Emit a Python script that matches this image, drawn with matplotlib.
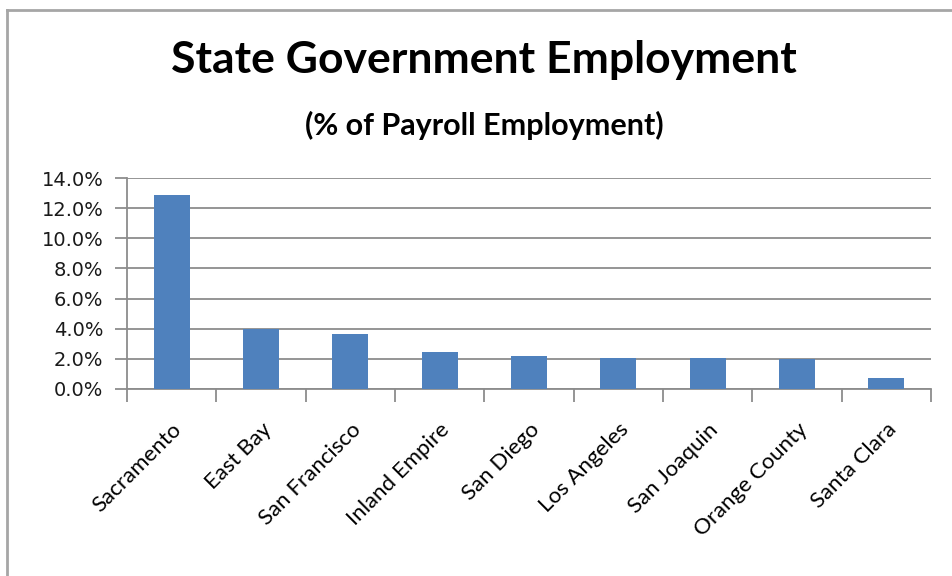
import matplotlib
matplotlib.use("Agg")
import matplotlib.pyplot as plt
from matplotlib.ticker import FuncFormatter, FixedLocator
from matplotlib.lines import Line2D

categories = ["Sacramento", "East Bay", "San Francisco", "Inland Empire", "San Diego",
              "Los Angeles", "San Joaquin", "Orange County", "Santa Clara"]
values = [12.9, 3.95, 3.65, 2.45, 2.2, 2.05, 2.05, 1.98, 0.75]
yticks = [0, 2, 4, 6, 8, 10, 12, 14]

fig = plt.figure(figsize=(9.52, 5.76), dpi=100)
fig.patch.set_facecolor("white")

# outer chart frame
fig.add_artist(Line2D([7/952, 7/952], [0, 1 - 10/576], transform=fig.transFigure,
                      color="#a6a6a6", lw=2))
fig.add_artist(Line2D([7/952, 1], [1 - 10/576, 1 - 10/576], transform=fig.transFigure,
                      color="#a6a6a6", lw=2))

ax = fig.add_axes([127/952, (576-389)/576, (931-127)/952, (389-178)/576])
x = list(range(len(categories)))
ax.bar(x, values, width=0.4, color="#4F81BD", zorder=3)
ax.set_xlim(-0.5, len(categories) - 0.5)
ax.set_ylim(0, 14)
ax.set_yticks(yticks)
ax.yaxis.set_major_formatter(FuncFormatter(lambda v, p: f"{v:.1f}%"))
ax.grid(axis="y", color="#8c8c8c", lw=1.3, zorder=0)
for s in ["top", "right"]:
    ax.spines[s].set_visible(False)
for s in ["left", "bottom"]:
    ax.spines[s].set_color("#8c8c8c")
    ax.spines[s].set_linewidth(1.3)

ax.set_xticks(x)
ax.set_xticklabels(categories, rotation=45, ha="right", rotation_mode="anchor",
                   fontsize=16, family="Lato")
ax.tick_params(axis="x", which="major", length=0, pad=22)
ax.xaxis.set_minor_locator(FixedLocator([i - 0.5 for i in range(len(categories) + 1)]))
ax.tick_params(axis="x", which="minor", length=9, width=1.3, color="#8c8c8c")
ax.tick_params(axis="y", length=9, width=1.3, color="#8c8c8c", labelsize=14, pad=8)
for lab in ax.get_yticklabels():
    lab.set_family("DejaVu Sans")
    lab.set_color("#1a1a1a")

fig.text(484/952, 1 - 60/576, "State Government Employment", ha="center", va="center",
         fontsize=32, fontweight="bold", family="Lato")
fig.text(484/952, 1 - 125/576, "(% of Payroll Employment)", ha="center", va="center",
         fontsize=22, fontweight="bold", family="Lato")

fig.savefig("out.png", dpi=100, facecolor="white")
